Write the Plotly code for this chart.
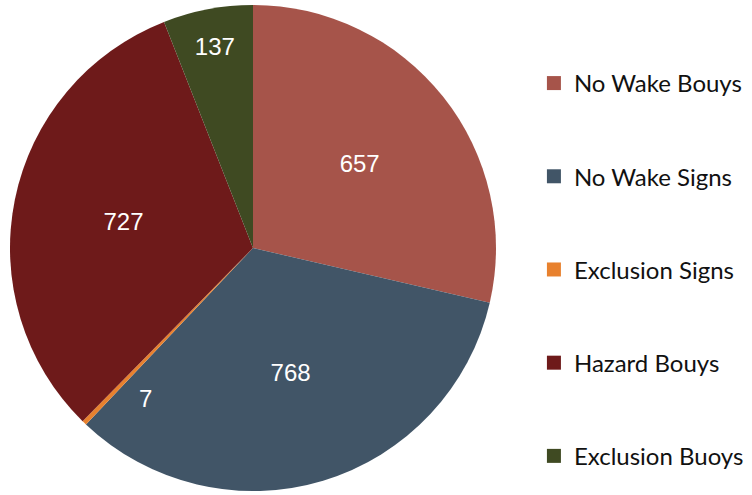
import plotly.graph_objects as go

categories = ["No Wake Bouys", "No Wake Signs", "Exclusion Signs", "Hazard Bouys", "Exclusion Buoys"]
counts = [657, 768, 7, 727, 137]
colors = ["#a6544a", "#415567", "#e8812e", "#6e1a1a", "#3f4a22"]

fig = go.Figure()

fig.add_trace(go.Pie(
    labels=categories,
    values=counts,
    sort=False,
    direction="clockwise",
    rotation=0,
    marker=dict(colors=colors, line=dict(width=0)),
    textinfo="value",
    textposition=["inside", "inside", "none", "inside", "inside"],
    insidetextorientation="horizontal",
    textfont=dict(family="Liberation Sans, Arial", size=24, color="#ffffff"),
    showlegend=False,
    domain=dict(x=[10 / 752, 496 / 752], y=[4 / 495, 490 / 495]),
    hoverinfo="label+value",
))

# the tiny slice gets its label set beside it, in the neighbouring slice
fig.add_annotation(
    x=137 / 752, y=1 - 414 / 495, xref="paper", yref="paper",
    text=str(counts[2]), showarrow=False,
    font=dict(family="Liberation Sans, Arial", size=24, color="#ffffff"),
)

# legend entries drawn as dummy traces so the spacing can be opened up
for name, c in zip(categories, colors):
    fig.add_trace(go.Scatter(
        x=[None], y=[None], mode="markers", name=name,
        marker=dict(symbol="square", size=14, color=c),
        legendgroup=name, showlegend=True,
    ))

fig.update_layout(
    width=752, height=495,
    margin=dict(l=0, r=0, t=0, b=0),
    paper_bgcolor="white", plot_bgcolor="white",
    xaxis=dict(visible=False), yaxis=dict(visible=False),
    legend=dict(
        x=0.710, y=0.4556, xanchor="left", yanchor="middle",
        font=dict(family="Lato", size=24, color="#111111"),
        tracegroupgap=59, itemwidth=30,
    ),
)

fig.write_html("out.html", config={"displayModeBar": False},
               post_script="document.body.style.margin='0';")
